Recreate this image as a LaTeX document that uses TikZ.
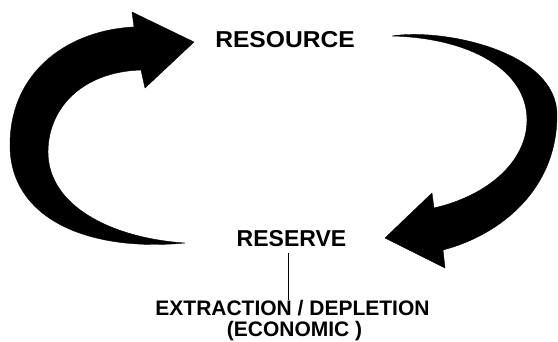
\documentclass[tikz,border=0pt]{standalone}
\usepackage{fontspec}
\setmainfont{Liberation Sans}
\begin{document}
\begin{tikzpicture}[x=1pt,y=-1pt,
  bigtxt/.style={font=\fontsize{23}{26}\selectfont\bfseries, anchor=base, inner sep=0pt},
  smalltxt/.style={font=\fontsize{21}{24}\selectfont\bfseries, anchor=base, inner sep=0pt},
  arrowfill/.style={fill=black, draw=black, line width=0.4pt, line join=round}]
\useasboundingbox (0,0) rectangle (558,341);
% texts
\node[bigtxt, xscale=1.07] (resource) at (285,47) {RESOURCE};
\node[bigtxt] (reserve) at (291.5,246) {RESERVE};
\node[smalltxt] (extr) at (292.5,315) {EXTRACTION / DEPLETION};
\node[smalltxt] (econ) at (294.5,336) {(ECONOMIC )};
% connector
\coordinate (lt) at (288,253);
\coordinate (lb) at (288,292);
\draw[line width=0.9pt] (reserve.south -| lt) ++(0,7) -- (extr.north -| lb) ++(0,-6);
% left arrow
\fill[arrowfill] (185,243) .. controls (90,252) and (10,220) .. (10,145)
  .. controls (10,70) and (70,30) .. (134,27)
  -- (132,12) -- (194,42) -- (145,88) -- (141,70)
  .. controls (80,72) and (48,110) .. (48,152)
  .. controls (48,205) and (110,238) .. (185,243) -- cycle;
% right arrow
\fill[arrowfill] (392,36) .. controls (440,28) and (557,50) .. (557,115)
  .. controls (557,190) and (500,235) .. (443,250)
  -- (445,268) -- (385,238) -- (432,193) -- (434,208)
  .. controls (490,195) and (527,160) .. (527,120)
  .. controls (527,70) and (470,38) .. (392,36) -- cycle;
\end{tikzpicture}
\end{document}
